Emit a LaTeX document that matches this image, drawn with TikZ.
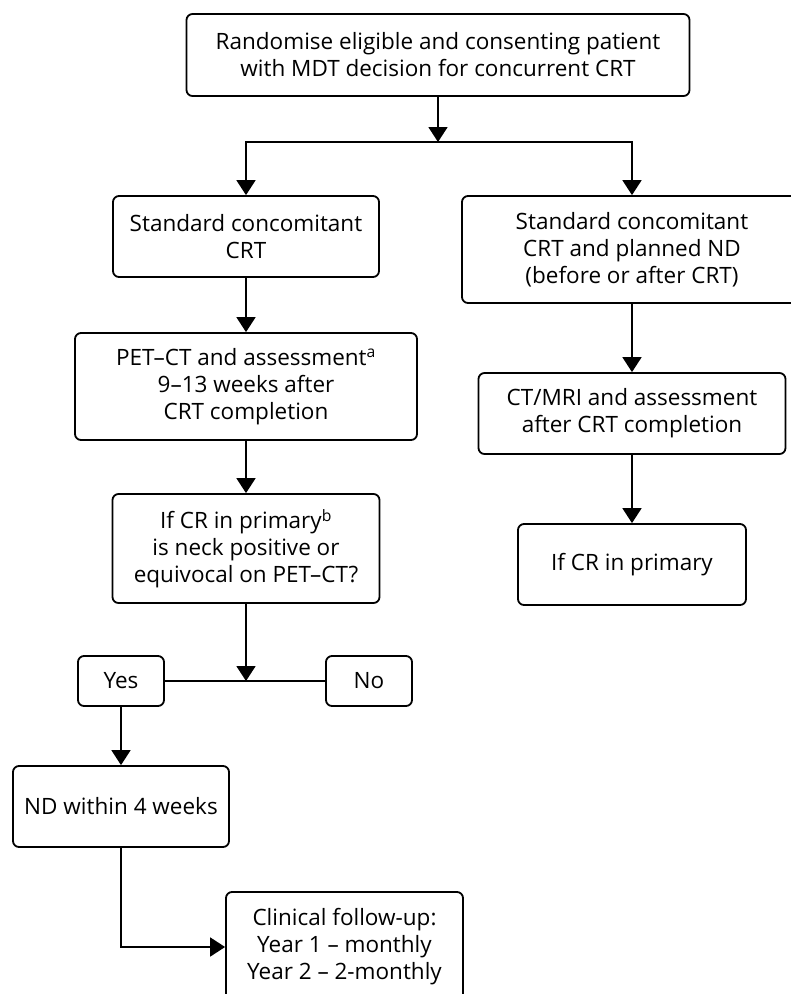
\documentclass[tikz,border=0pt]{standalone}
\usepackage{fontspec}
\setmainfont{Open Sans}
\usetikzlibrary{arrows.meta}
\begin{document}
\begin{tikzpicture}[x=1pt,y=-1pt,
  box/.style={draw, line width=1.8pt, rounded corners=6pt, align=center, inner sep=0pt,
              font=\fontsize{22.5}{27}\selectfont},
  arr/.style={line width=1.8pt, -{Triangle[length=15pt,width=19pt]}},
  ln/.style={line width=1.8pt}]
\useasboundingbox (0,0) rectangle (791,994);
\fill[white] (0,0) rectangle (791,994);
\clip (0,0) rectangle (791,994);

\node[box, minimum width=503pt, minimum height=82pt] (top) at (438,55)
  {Randomise eligible and consenting patient\\with MDT decision for concurrent CRT};
\node[box, minimum width=266pt, minimum height=81pt] (std) at (246,236.5)
  {Standard concomitant\\CRT};
\node[box, minimum width=340pt, minimum height=107pt] (stdnd) at (632,249.5)
  {Standard concomitant\\CRT and planned ND\\(before or after CRT)};
\node[box, minimum width=342pt, minimum height=107pt] (pet) at (246,386.5)
  {PET–CT and assessment\textsuperscript{a}\\9–13 weeks after\\CRT completion};
\node[box, minimum width=307pt, minimum height=81pt] (ctmri) at (632,413.5)
  {CT/MRI and assessment\\after CRT completion};
\node[box, minimum width=267pt, minimum height=109pt] (crb) at (246,548.5)
  {If CR in primary\textsuperscript{b}\\is neck positive or\\equivocal on PET–CT?};
\node[box, minimum width=228pt, minimum height=81pt] (crr) at (632,564.5)
  {If CR in primary};
\node[box, minimum width=86pt, minimum height=50pt] (yes) at (121,681) {Yes};
\node[box, minimum width=86pt, minimum height=50pt] (no) at (369,681) {No};
\node[box, minimum width=216pt, minimum height=81pt] (nd) at (121,806.5) {ND within 4 weeks};
\node[box, minimum width=237pt, minimum height=110pt] (clin) at (344.5,947)
  {Clinical follow-up:\\Year 1 – monthly\\Year 2 – 2-monthly};

\coordinate (split) at (438,142);
\coordinate (join) at (246,681);

\draw[arr] (top) -- (split);
\draw[arr] (split) -| (std);
\draw[arr] (split) -| (stdnd);
\draw[arr] (std) -- (pet);
\draw[arr] (pet) -- (crb);
\draw[arr] (crb) -- (join);
\draw[ln] (yes) -- (no);
\draw[arr] (yes) -- (nd);
\draw[arr] (nd.south) |- (clin.west);
\draw[arr] (stdnd) -- (ctmri);
\draw[arr] (ctmri) -- (crr);
\end{tikzpicture}
\end{document}
